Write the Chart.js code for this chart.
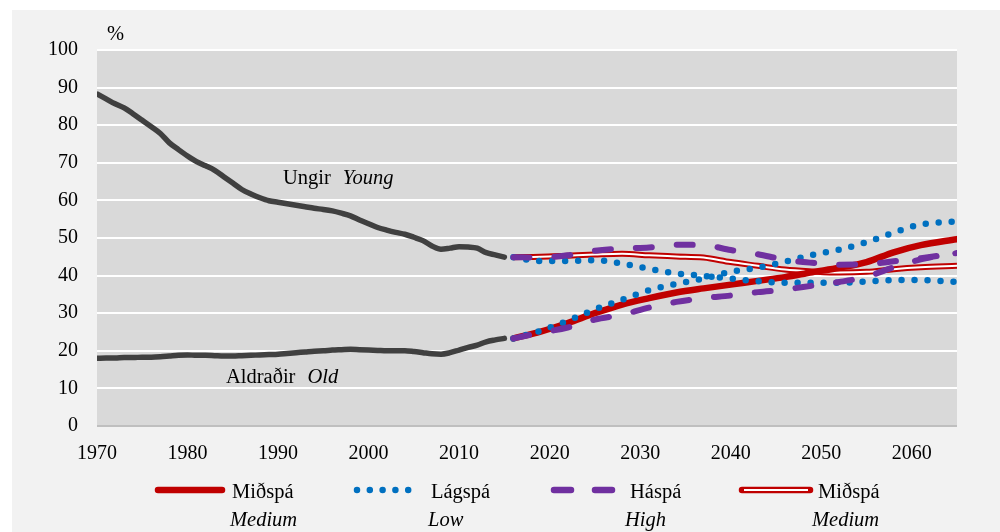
<!DOCTYPE html>
<html>
<head>
<meta charset="utf-8">
<script src="https://cdn.jsdelivr.net/npm/chart.js@4"></script>
<style>
  body { margin: 0; background: #fff; width: 1000px; height: 532px; overflow: hidden; position: relative;
         font-family: "Liberation Serif", "Times New Roman", serif; }
  #frame { position: absolute; left: 12px; top: 10px; right: 0; bottom: 0; background: #f2f2f2; }
  #chart { position: absolute; left: 0; top: 0; }
  .t { position: absolute; font-size: 20.5px; line-height: 24px; color: #000; white-space: nowrap; }
  .i { font-style: italic; }
  #legendSvg { position: absolute; left: 0; top: 0; }
</style>
</head>
<body>
<div id="frame"></div>
<canvas id="chart" width="1000" height="532"></canvas>
<div class="t" style="left:107px;top:21px">%</div>

<svg id="legendSvg" width="1000" height="532">
  <line x1="158" y1="490" x2="222" y2="490" stroke="#c00000" stroke-width="6.5" stroke-linecap="round"/>
  <line x1="357" y1="490" x2="421" y2="490" stroke="#0070c0" stroke-width="6.5" stroke-linecap="round" stroke-dasharray="0 12.8"/>
  <line x1="554" y1="490" x2="613" y2="490" stroke="#7030a0" stroke-width="6.5" stroke-linecap="round" stroke-dasharray="17 24"/>
  <line x1="742" y1="490" x2="810" y2="490" stroke="#c00000" stroke-width="6.5" stroke-linecap="round"/>
  <line x1="744" y1="490" x2="808" y2="490" stroke="#fff" stroke-width="2.2"/>
</svg>
<div class="t" style="left:232px;top:479px">Miðspá</div>
<div class="t i" style="left:230px;top:507px">Medium</div>
<div class="t" style="left:431px;top:479px">Lágspá</div>
<div class="t i" style="left:428px;top:507px">Low</div>
<div class="t" style="left:630px;top:479px">Háspá</div>
<div class="t i" style="left:625px;top:507px">High</div>
<div class="t" style="left:818px;top:479px">Miðspá</div>
<div class="t i" style="left:812px;top:507px">Medium</div>

<script>
// Historical data, 1970-2015
const histYears = [1970, 1971, 1972, 1973, 1974, 1975, 1976, 1977, 1978, 1979,
  1980, 1981, 1982, 1983, 1984, 1985, 1986, 1987, 1988, 1989,
  1990, 1991, 1992, 1993, 1994, 1995, 1996, 1997, 1998, 1999,
  2000, 2001, 2002, 2003, 2004, 2005, 2006, 2007, 2008, 2009,
  2010, 2011, 2012, 2013, 2014, 2015];
const youngHist = [88.3, 87.0, 85.7, 84.6, 83.0, 81.3, 79.6, 77.8, 75.3, 73.5,
  71.8, 70.3, 69.2, 68.0, 66.3, 64.6, 62.9, 61.7, 60.7, 59.9,
  59.5, 59.1, 58.7, 58.3, 57.9, 57.6, 57.2, 56.6, 55.9, 54.8,
  53.8, 52.8, 52.1, 51.5, 51.0, 50.2, 49.3, 47.9, 47.0, 47.3,
  47.7, 47.6, 47.3, 46.1, 45.5, 44.9];
const oldHist = [18.0, 18.1, 18.1, 18.2, 18.2, 18.3, 18.3, 18.4, 18.6, 18.8,
  18.9, 18.8, 18.8, 18.7, 18.6, 18.6, 18.7, 18.8, 18.9, 19.0,
  19.1, 19.3, 19.5, 19.7, 19.9, 20.0, 20.2, 20.3, 20.4, 20.3,
  20.2, 20.1, 20.0, 20.0, 20.0, 19.8, 19.5, 19.2, 19.1, 19.5,
  20.2, 20.9, 21.5, 22.4, 22.9, 23.3];

// Projections, 2016-2065
const projYears = [2016, 2019, 2022, 2025, 2028, 2031, 2034, 2037, 2040, 2043, 2046, 2049, 2052, 2055, 2058, 2061, 2065];
const mediumOld   = [23.3, 25.1, 27.4, 30.0, 32.3, 34.0, 35.5, 36.6, 37.6, 38.6, 39.6, 40.9, 42.1, 43.6, 46.2, 48.1, 49.7];
const mediumYoung = [44.9, 45.0, 45.3, 45.6, 45.8, 45.4, 45.1, 44.8, 43.6, 42.6, 41.6, 41.1, 40.8, 41.0, 41.7, 42.2, 42.6];
const lowOld      = [23.3, 25.3, 28.0, 31.0, 33.6, 36.1, 37.8, 39.2, 41.0, 42.1, 43.7, 45.5, 46.9, 48.9, 51.4, 53.6, 54.4];
const lowYoung    = [44.9, 43.9, 43.9, 44.1, 43.2, 41.8, 40.6, 39.9, 39.2, 38.5, 38.1, 38.1, 38.1, 38.4, 38.8, 38.8, 38.3];
const highOld     = [23.3, 24.8, 26.2, 28.3, 29.6, 31.5, 33.0, 34.0, 34.7, 35.6, 36.3, 37.3, 38.3, 39.7, 42.2, 44.3, 46.0];
const highYoung   = [44.9, 44.8, 45.4, 46.6, 47.2, 47.5, 48.2, 48.1, 46.8, 45.7, 44.2, 43.4, 42.9, 43.0, 43.8, 44.6, 46.0];

const xTicks = [1970, 1980, 1990, 2000, 2010, 2020, 2030, 2040, 2050, 2060];
const yTicks = [0, 10, 20, 30, 40, 50, 60, 70, 80, 90, 100];

const FONT = '"Liberation Serif", "Times New Roman", serif';

function pts(xs, ys) {
  return xs.map((x, i) => ({ x: x, y: ys[i] }));
}

function line(data, color, width, order, extra) {
  return Object.assign({
    data: data,
    borderColor: color,
    borderWidth: width,
    borderCapStyle: 'round',
    borderJoinStyle: 'round',
    pointRadius: 0,
    fill: false,
    cubicInterpolationMode: 'monotone',
    order: order
  }, extra || {});
}

// Grey plot background
const plotBg = {
  id: 'plotBg',
  beforeDraw(chart) {
    const { ctx, chartArea: a } = chart;
    ctx.save();
    ctx.fillStyle = '#d9d9d9';
    ctx.fillRect(a.left, a.top, a.width, a.height);
    ctx.restore();
  }
};

// "Ungir Young" / "Aldraðir Old" labels
const curveLabels = {
  id: 'curveLabels',
  afterDraw(chart) {
    const { ctx, scales } = chart;
    const put = (year, val, word, eng) => {
      const x = scales.x.getPixelForValue(year);
      const y = scales.y.getPixelForValue(val);
      ctx.save();
      ctx.fillStyle = '#000';
      ctx.textBaseline = 'middle';
      ctx.font = '20.5px ' + FONT;
      ctx.fillText(word, x, y);
      const w = ctx.measureText(word).width;
      ctx.font = 'italic 20.5px ' + FONT;
      ctx.fillText(eng, x + w + 12, y);
      ctx.restore();
    };
    put(1990.55, 65.8, 'Ungir', 'Young');
    put(1984.25, 13.0, 'Aldraðir', 'Old');
  }
};

const ctx = document.getElementById('chart').getContext('2d');
new Chart(ctx, {
  type: 'line',
  data: {
    datasets: [
      line(pts(histYears, youngHist), '#404040', 5.5, 8),
      line(pts(histYears, oldHist), '#404040', 5.5, 8),
      line(pts(projYears, mediumYoung), '#c00000', 6, 7, { borderCapStyle: 'butt' }),
      line(pts(projYears, mediumYoung), '#ffffff', 2, 6, { borderCapStyle: 'butt' }),
      line(pts(projYears, mediumOld), '#c00000', 6.5, 5),
      line(pts(projYears, lowYoung), '#0070c0', 6.5, 4, { borderDash: [0, 13] }),
      line(pts(projYears, lowOld), '#0070c0', 6.5, 4, { borderDash: [0, 13] }),
      line(pts(projYears, highYoung), '#7030a0', 6, 3, { borderDash: [16, 25] }),
      line(pts(projYears, highOld), '#7030a0', 6, 3, { borderDash: [16, 25] })
    ]
  },
  options: {
    responsive: false,
    animation: false,
    devicePixelRatio: 1,
    layout: { padding: { left: 0, right: 43, top: 50, bottom: 0 } },
    plugins: { legend: { display: false }, tooltip: { enabled: false } },
    scales: {
      x: {
        type: 'linear',
        min: 1970,
        max: 2065,
        afterBuildTicks: (s) => { s.ticks = xTicks.map(v => ({ value: v })); },
        afterFit: (s) => { s.height = 106; },
        grid: { display: false, drawTicks: false },
        border: { display: false },
        ticks: {
          autoSkip: false, maxRotation: 0, padding: 16, color: '#000',
          font: { family: FONT, size: 20 },
          callback: (v) => String(v)
        }
      },
      y: {
        min: 0,
        max: 100,
        afterBuildTicks: (s) => { s.ticks = yTicks.map(v => ({ value: v })); },
        afterFit: (s) => { s.width = 97; },
        grid: {
          drawTicks: false,
          color: (c) => c.tick && c.tick.value === 0 ? '#bfbfbf' : '#ffffff',
          lineWidth: 2
        },
        border: { display: false },
        ticks: {
          padding: 19, color: '#000',
          font: { family: FONT, size: 20 },
          callback: (v) => String(v)
        }
      }
    }
  },
  plugins: [plotBg, curveLabels]
});
</script>
</body>
</html>
